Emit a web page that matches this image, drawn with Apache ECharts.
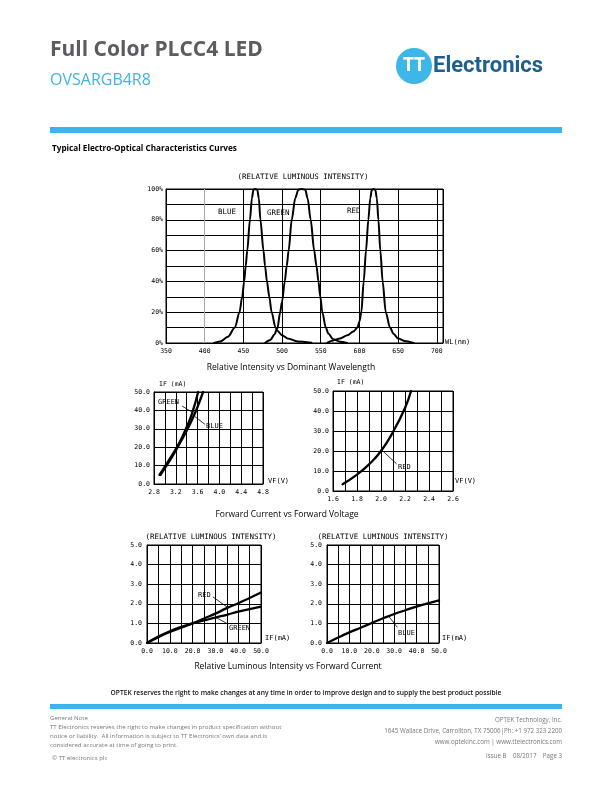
<!DOCTYPE html>
<html>
<head>
<meta charset="utf-8">
<script src="https://cdn.jsdelivr.net/npm/echarts@6/dist/echarts.min.js"></script>
<style>
  html, body { margin: 0; padding: 0; background: #fff; }
  #page { width: 612px; height: 792px; }
</style>
</head>
<body>
<div id="page"></div>
<script>
// spectrum curves: [wavelength nm, relative intensity %]
const blueSpectrum = [[412,0],[420,1],[430,4],[439,10],[445,20],[448.5,30],[451,40],[453,50],[455,60],[458.5,80],[461,94],[463,99.5],[465,100],[468,99.5],[470,94],[472,80],[476,60],[478,50],[480.5,40],[483.5,30],[486.5,20],[491.5,10],[494,8],[500,5],[507,3],[520,1],[538,0.2]];
const greenSpectrum = [[478,0],[485,2],[490,5.5],[494,9.5],[497.5,20],[500,27],[503.5,40],[506,50],[508.5,60],[512.5,80],[517,94],[521,99.5],[525,100],[530,99.5],[533,94],[537,80],[541.5,60],[544.5,50],[547,40],[549.5,30],[552,20],[556.5,10],[560,6],[566,2.5],[575,0.8],[584,0]];
const redSpectrum = [[558,0],[566,1.7],[575,3],[584.5,5],[592,7.5],[597.5,10],[600,14],[602.5,20],[605.5,40],[608.5,60],[611.5,80],[614,94],[616,99.5],[618,100],[620.5,99.5],[622.5,94],[624.5,80],[627,60],[630,40],[634,20],[639.5,10],[644,6],[650,3],[658,1.3],[670,0]];

// forward voltage (V) vs forward current (mA)
const ivGreen = [[2.9,5],[3.0,9.5],[3.1,14.2],[3.2,19],[3.3,24.5],[3.4,31],[3.5,38.5],[3.61,50]];
const ivBlue = [[2.92,5],[3.0,8.6],[3.1,13.2],[3.2,18.2],[3.3,23.5],[3.4,29],[3.5,35],[3.6,42],[3.7,50]];
const ivRed = [[1.68,3.4],[1.8,8.2],[1.9,13.3],[2.0,20],[2.1,29.5],[2.2,41.5],[2.25,50]];

// relative luminous intensity vs forward current
const lumCurrent = [0,5,10,15,20,25,30,35,40,45,50];
const lumRed = [0,0.3,0.56,0.78,1.0,1.25,1.5,1.78,2.03,2.3,2.58];
const lumGreen = [0,0.33,0.6,0.82,1.0,1.15,1.3,1.44,1.6,1.73,1.86];
const lumBlue = [0,0.28,0.54,0.78,1.02,1.26,1.48,1.67,1.86,2.02,2.17];

const mono = 'DejaVu Sans Mono';
const sans = 'Open Sans';

function pairs(xs, ys) {
  return xs.map((x, i) => [x, ys[i]]);
}

// value axis with plotter-style labels
function axis(grid, min, max, step, labelFn, margin, splitColor) {
  return {
    gridIndex: grid, type: 'value', min: min, max: max, interval: step,
    axisLine: { show: true, lineStyle: { color: '#000', width: 1 } },
    axisTick: { show: false },
    axisLabel: { fontFamily: mono, fontSize: 6.5, color: '#000', margin: margin, formatter: labelFn },
    splitLine: { show: true, lineStyle: { color: splitColor || '#000', width: 1 } }
  };
}

function curve(xi, data, leaders) {
  const s = {
    type: 'line', xAxisIndex: xi, yAxisIndex: xi, data: data,
    showSymbol: false, silent: true,
    lineStyle: { color: '#000', width: xi === 0 ? 2 : 2.3, join: 'round', cap: 'round' }
  };
  if (xi === 0) {
    s.smooth = 0.3;
    s.smoothMonotone = 'x';
  } else {
    s.smooth = 0.5;
  }
  if (leaders) {
    s.markLine = {
      silent: true, symbol: 'none', label: { show: false },
      lineStyle: { color: '#000', width: 0.8, type: 'solid' },
      data: leaders.map(l => [{ coord: l[0] }, { coord: l[1] }])
    };
  }
  return s;
}

function txt(x, y, s, size, opts) {
  opts = opts || {};
  return {
    type: 'text', x: x, y: y, silent: true,
    style: {
      text: s, fontSize: size, fontFamily: opts.family || mono,
      fontWeight: opts.weight || 'normal', fill: opts.fill || '#000',
      align: opts.align || 'left', verticalAlign: 'middle'
    }
  };
}

const oneDec = v => v.toFixed(1);

const chart = echarts.init(document.getElementById('page'), null, { renderer: 'canvas' });

chart.setOption({
  animation: false,
  backgroundColor: '#fff',
  grid: [
    { left: 166, top: 189, width: 277, height: 154, show: true, borderColor: '#000', borderWidth: 1 },
    { left: 154, top: 392, width: 109, height: 92, show: true, borderColor: '#000', borderWidth: 1 },
    { left: 333, top: 391, width: 120, height: 100, show: true, borderColor: '#000', borderWidth: 1 },
    { left: 147, top: 545, width: 114, height: 98, show: true, borderColor: '#000', borderWidth: 1 },
    { left: 327, top: 545, width: 112, height: 98, show: true, borderColor: '#000', borderWidth: 1 }
  ],
  xAxis: [
    axis(0, 350, 708, 50, v => (v % 50 === 0 ? String(v) : ''), 5,
      ['#000', '#aaa', '#000', '#000', '#000', '#000', '#000', '#000', '#000']),
    axis(1, 2.8, 4.8, 0.2, v => (Math.round(v * 10) % 4 === 0 ? oneDec(v) : ''), 5),
    axis(2, 1.6, 2.6, 0.1, v => (Math.round(v * 10) % 2 === 0 ? oneDec(v) : ''), 5),
    axis(3, 0, 50, 5, v => (v % 10 === 0 ? oneDec(v) : ''), 5),
    axis(4, 0, 50, 5, v => (v % 10 === 0 ? oneDec(v) : ''), 5)
  ],
  yAxis: [
    axis(0, 0, 100, 10, v => (v % 20 === 0 ? v + '%' : ''), 3),
    axis(1, 0, 50, 10, oneDec, 4),
    axis(2, 0, 50, 10, oneDec, 4),
    axis(3, 0, 5, 1, oneDec, 5),
    axis(4, 0, 5, 1, oneDec, 5)
  ],
  series: [
    curve(0, blueSpectrum),
    curve(0, greenSpectrum),
    curve(0, redSpectrum),
    curve(1, ivGreen, [[[3.314, 42.4], [3.5, 39]]]),
    curve(1, ivBlue, [[[3.552, 36.6], [3.736, 32.4]]]),
    curve(2, ivRed, [[[2.006, 20.5], [2.131, 13.5]]]),
    curve(3, pairs(lumCurrent, lumRed), [[[28.9, 2.35], [35.1, 1.84]]]),
    curve(3, pairs(lumCurrent, lumGreen), [[[30, 1.32], [35.5, 0.97]]]),
    curve(4, pairs(lumCurrent, lumBlue), [[[27.4, 1.38], [31.4, 0.8]]])
  ],
  graphic: [
    // header
    txt(50, 50, 'Full Color PLCC4 LED', 21, { family: sans, weight: 'bold', fill: '#595d61' }),
    txt(50, 80, 'OVSARGB4R8', 16, { family: sans, fill: '#3fb4e5' }),
    { type: 'circle', silent: true, shape: { cx: 414, cy: 66, r: 18 }, style: { fill: '#3eb6e8' } },
    txt(414, 66, 'TT', 19, { family: sans, weight: 'bold', fill: '#fff', align: 'center' }),
    txt(433, 66, 'Electronics', 22, { family: 'Roboto', weight: 'bold', fill: '#1d5f8e' }),
    { type: 'rect', silent: true, shape: { x: 50, y: 127, width: 512, height: 6 }, style: { fill: '#3db5e6' } },
    txt(52, 149, 'Typical Electro-Optical Characteristics Curves', 8.2, { family: sans, weight: 'bold' }),

    // wavelength chart
    txt(303, 177, '(RELATIVE LUMINOUS INTENSITY)', 7.5, { align: 'center' }),
    txt(445, 342, 'WL(nm)', 7),
    txt(218, 212, 'BLUE', 7.5),
    txt(267, 213, 'GREEN', 7.5),
    txt(347, 211, 'RED', 7.5),
    txt(291, 368, 'Relative Intensity vs Dominant Wavelength', 8.5, { family: sans, align: 'center' }),

    // forward voltage charts
    txt(159, 384, 'IF (mA)', 6.5),
    txt(268, 481, 'VF(V)', 7),
    txt(158, 402, 'GREEN', 7),
    txt(206, 426, 'BLUE', 7),
    txt(337, 382, 'IF (mA)', 6.5),
    txt(455, 481, 'VF(V)', 7),
    txt(398, 467, 'RED', 7),
    txt(287, 515, 'Forward Current vs Forward Voltage', 8.5, { family: sans, align: 'center' }),

    // luminous intensity charts
    txt(211, 537, '(RELATIVE LUMINOUS INTENSITY)', 7.5, { align: 'center' }),
    txt(265, 638, 'IF(mA)', 7),
    txt(198, 595, 'RED', 7),
    txt(229, 628, 'GREEN', 7),
    txt(383, 537, '(RELATIVE LUMINOUS INTENSITY)', 7.5, { align: 'center' }),
    txt(442, 638, 'IF(mA)', 7),
    txt(398, 633, 'BLUE', 7),
    txt(288, 667, 'Relative Luminous Intensity vs Forward Current', 8.5, { family: sans, align: 'center' }),

    // footer
    txt(306, 693, 'OPTEK reserves the right to make changes at any time in order to improve design and to supply the best product possible', 6.7, { family: sans, weight: 600, align: 'center', fill: '#111' }),
    { type: 'rect', silent: true, shape: { x: 50, y: 704, width: 512, height: 5 }, style: { fill: '#3db5e6' } },
    txt(50, 718, 'General Note', 6.1, { family: sans, fill: '#777' }),
    txt(50, 727, 'TT Electronics reserves the right to make changes in product specification without', 6.1, { family: sans, fill: '#777' }),
    txt(50, 736, 'notice or liability.  All information is subject to TT Electronics\u2019 own data and is', 6.1, { family: sans, fill: '#777' }),
    txt(50, 745, 'considered accurate at time of going to print.', 6.1, { family: sans, fill: '#777' }),
    txt(52, 758, '\u00a9 TT electronics plc', 6.1, { family: sans, fill: '#777' }),
    txt(562, 720, 'OPTEK Technology, Inc.', 6.2, { family: sans, fill: '#777', align: 'right' }),
    txt(562, 731, '1645 Wallace Drive, Carrollton, TX 75006|Ph: +1 972 323 2200', 6.2, { family: sans, fill: '#777', align: 'right' }),
    txt(562, 742, 'www.optekinc.com | www.ttelectronics.com', 6.2, { family: sans, fill: '#777', align: 'right' }),
    txt(562, 756, 'Issue B    08/2017    Page 3', 6.2, { family: sans, fill: '#777', align: 'right' })
  ]
});
</script>
</body>
</html>
